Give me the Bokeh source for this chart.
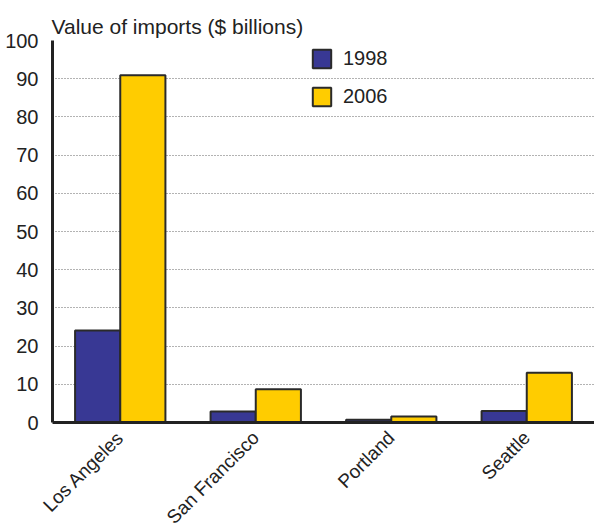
from math import pi
from bokeh.plotting import figure
from bokeh.models import ColumnDataSource, FactorRange, Legend, LegendItem, FixedTicker
from bokeh.transform import dodge
from bokeh.embed import file_html
from bokeh.resources import INLINE

cities = ["Los Angeles", "San Francisco", "Portland", "Seattle"]
years = ["1998", "2006"]
imports_1998 = [24.1, 2.9, 0.7, 3.0]
imports_2006 = [90.9, 8.7, 1.6, 13.0]
y_ticks = [0, 10, 20, 30, 40, 50, 60, 70, 80, 90, 100]

FONT = "Liberation Sans"
source = ColumnDataSource(data=dict(city=cities, y1998=imports_1998, y2006=imports_2006))

p = figure(x_range=FactorRange(factors=cities, range_padding=0), y_range=(0, 100),
           frame_width=542, frame_height=382, output_backend="svg", toolbar_location=None,
           min_border_left=52, min_border_right=0, min_border_top=40, min_border_bottom=100,
           title="Value of imports ($ billions)")
p.outline_line_color = None
p.title.text_font = FONT
p.title.text_font_size = "21px"
p.title.text_font_style = "normal"
p.title.text_color = "#222222"
p.title.align = "left"
p.title.offset = -1
p.title.standoff = 6

r1 = p.vbar(x=dodge("city", -0.1667, range=p.x_range), top="y1998", width=0.3333, source=source,
            fill_color="#383894", line_color="#2a2a2a", line_width=2)
r2 = p.vbar(x=dodge("city", 0.1667, range=p.x_range), top="y2006", width=0.3333, source=source,
            fill_color="#FFCC00", line_color="#2a2a2a", line_width=2)

p.xgrid.grid_line_color = None
p.ygrid.grid_line_color = "#666666"
p.ygrid.grid_line_dash = "1 2"
p.ygrid.grid_line_width = 1
p.yaxis.ticker = FixedTicker(ticks=y_ticks)

for ax in (p.xaxis[0], p.yaxis[0]):
    ax.axis_line_width = 3
    ax.axis_line_color = "#222222"
    ax.major_tick_line_color = None
    ax.minor_tick_line_color = None
    ax.major_label_text_font = FONT
    ax.major_label_text_color = "#222222"
p.yaxis.major_label_text_font_size = "20px"
p.xaxis.major_label_text_font_size = "19px"
p.yaxis.major_label_standoff = 8
p.xaxis.major_label_orientation = pi / 4
p.xaxis.major_label_standoff = 6

legend = Legend(items=[LegendItem(label=years[0], renderers=[r1]),
                       LegendItem(label=years[1], renderers=[r2])],
                location=(258, 314), background_fill_alpha=0, border_line_color=None,
                glyph_width=23, glyph_height=23, spacing=15, label_text_font=FONT,
                label_text_font_size="20px", label_text_color="#222222", padding=0,
                margin=0, label_standoff=10, label_height=23)
p.add_layout(legend, "center")

open("out.html", "w").write(file_html(p, INLINE))
